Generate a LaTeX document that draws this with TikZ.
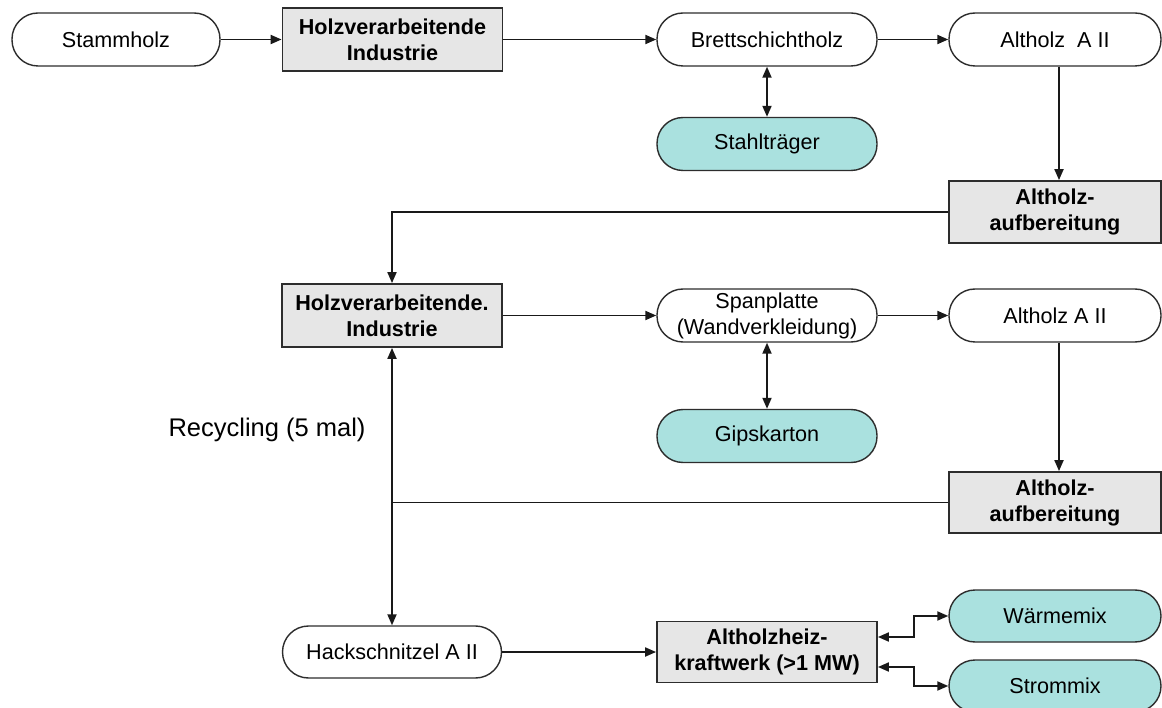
\documentclass[tikz,border=0pt]{standalone}
\usepackage{fontspec}
\setmainfont{Liberation Sans}
\usetikzlibrary{arrows.meta}
\definecolor{tealfill}{RGB}{170,225,223}
\definecolor{greyfill}{RGB}{230,230,230}
\definecolor{edgec}{RGB}{45,45,45}
\begin{document}
\begin{tikzpicture}[x=1pt,y=-1pt,
  every node/.style={font=\fontsize{21.6}{26}\selectfont, align=center, inner sep=0pt},
  pill/.style={draw=edgec, line width=1.4pt, rounded corners=26pt, minimum height=53pt, minimum width=220pt, fill=white},
  tealpill/.style={pill, fill=tealfill},
  procbox/.style={draw=edgec, line width=1.8pt, fill=greyfill, minimum width=220pt, minimum height=63pt, font=\fontsize{21.6}{26}\selectfont\bfseries},
  conn/.style={draw=black!90, line width=1.9pt},
  arr/.style={conn, -{Triangle[length=11pt,width=9pt]}},
  darr/.style={conn, {Triangle[length=11pt,width=9pt]}-{Triangle[length=11pt,width=9pt]}},
]
\useasboundingbox (0,0) rectangle (1162,708);
\fill[white] (0,0) rectangle (1162,708);

\node[pill, minimum width=208pt] (stamm) at (116,39.5) {Stammholz};
\node[procbox] (hi1) at (392.5,39.5) {Holzverarbeitende\\Industrie};
\node[pill] (brett) at (767,39.5) {Brettschichtholz};
\node[pill, minimum width=212pt] (alt1) at (1055,39.5) {Altholz\ \ A II};
\node[tealpill] (stahl) at (767,144) {Stahlträger};
\node[procbox, minimum width=212pt, minimum height=62pt] (aa1) at (1055,212) {Altholz-\\aufbereitung};
\node[procbox] (hi2) at (392,315.5) {Holzverarbeitende.\\Industrie};
\node[pill] (span) at (767,315.5) {Spanplatte\\(Wandverkleidung)};
\node[pill, minimum width=212pt] (alt2) at (1055,315.5) {Altholz A II};
\node[tealpill] (gips) at (767,436) {Gipskarton};
\node[procbox, minimum width=212pt, minimum height=61pt] (aa2) at (1055,502.5) {Altholz-\\aufbereitung};
\node[font=\fontsize{25.5}{30}\selectfont] (recyc) at (267,430) {Recycling (5 mal)};
\node[pill, minimum width=219pt, minimum height=52pt] (hack) at (392,652) {Hackschnitzel A II};
\node[procbox, minimum height=61pt] (hkw) at (767,652) {Altholzheiz-\\kraftwerk (>1 MW)};
\node[tealpill, minimum width=212pt, minimum height=52pt] (waerme) at (1055,616) {Wärmemix};
\node[tealpill, minimum width=212pt, minimum height=52pt] (strom) at (1055,686) {Strommix};

\draw[arr] (stamm) -- (hi1);
\draw[arr] (hi1) -- (brett);
\draw[arr] (brett) -- (alt1);
\draw[darr] (brett) -- (stahl);
\draw[arr] ([xshift=4pt]alt1.south) -- ([xshift=4pt]aa1.north);
\draw[arr] (aa1.west) -| (hi2.north);
\draw[arr] (hi2) -- (span);
\draw[arr] (span) -- (alt2);
\draw[darr] (span) -- (gips);
\draw[arr] ([xshift=4pt]alt2.south) -- ([xshift=4pt]aa2.north);
\coordinate (j) at (hi2.south |- aa2.west);
\draw[conn] (aa2.west) -- (j);
\draw[arr] (j) -- (hi2.south);
\draw[arr] (j) -- (hack.north);
\draw[arr] (hack) -- (hkw);
\draw[darr] ([yshift=15pt]hkw.east) -- ++(36,0) |- (waerme.west);
\draw[darr] ([yshift=-15pt]hkw.east) -- ++(36,0) |- (strom.west);
\end{tikzpicture}
\end{document}
